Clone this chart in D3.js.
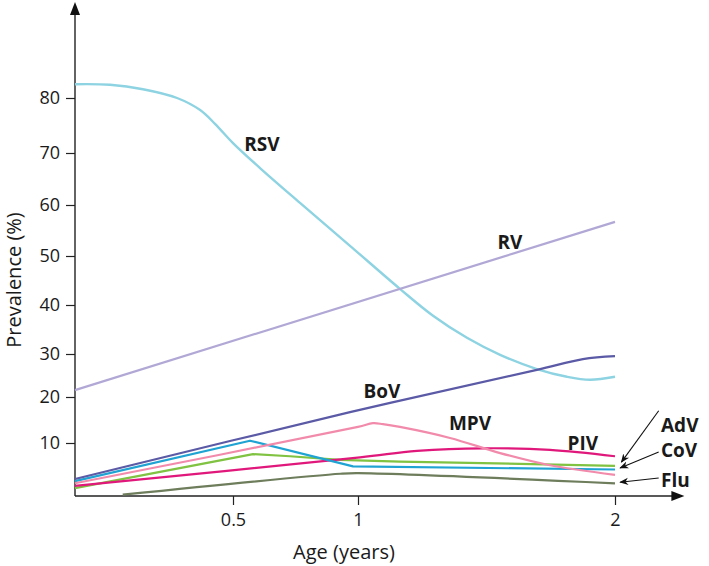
<!DOCTYPE html>
<html>
<head>
<meta charset="utf-8">
<script src="https://cdn.jsdelivr.net/npm/d3@7"></script>
<style>
  html, body { margin: 0; padding: 0; background: #fff; }
  svg { display: block; }
  text { font-family: "Open Sans", "Noto Sans", sans-serif; fill: #1a1a1a; }
</style>
</head>
<body>
<svg id="chart" width="709" height="566"></svg>
<script>
// ---------- data ----------
const xTicks = [0.5, 1, 2];
const yTicks = [10, 20, 30, 40, 50, 60, 70, 80];
const seriesNames = ["RSV", "RV", "BoV", "MPV", "PIV", "AdV", "CoV", "Flu"];

// age (years) / prevalence (%)
const rsvAge = [0, 0.111, 0.215, 0.323, 0.396, 0.443, 0.5, 0.608, 0.768, 0.968, 1.163, 1.292, 1.424, 1.553, 1.696, 1.813, 1.903, 2.0];
const rsvVal = [82.5, 82.4, 81.6, 80.0, 77.8, 75.3, 71.8, 67.1, 60.4, 52.0, 43.3, 37.8, 33.3, 29.8, 26.5, 24.7, 24.0, 24.7];

const rvAge = [0, 2];
const rvVal = [21.6, 56.7];

const bovAge = [0, 0.968, 1.696, 1.875, 2.0];
const bovVal = [3.2, 16.7, 26.3, 28.8, 29.5];

const mpvAge = [0, 1.0, 1.058, 1.097, 1.163, 1.358, 1.553, 1.747, 2.0];
const mpvVal = [2.4, 13.5, 14.3, 14.1, 13.5, 11.1, 8.1, 5.8, 4.0];

const pivAge = [0, 1.008, 1.23, 1.486, 1.747, 2.0];
const pivVal = [1.9, 7.3, 8.5, 9.0, 8.7, 7.5];

const advAge = [0, 0.58, 0.728, 0.928, 1.163, 2.0];
const advVal = [1.5, 7.9, 7.5, 6.8, 6.5, 5.7];

const covAge = [0, 0.568, 0.98, 2.0];
const covVal = [2.8, 10.5, 5.6, 5.0];

const fluAge = [0.151, 0.93, 1.0, 2.0];
const fluVal = [0.25, 4.2, 4.3, 2.4];

// label anchors [age, value]
const labelAge = [0.616, 1.591, 1.093, 1.436, 1.875, 2.179, 2.179, 2.179];
const labelVal = [71.5, 52.7, 21.2, 14.3, 10.0, 13.9, 8.7, 3.0];

// pointer arrows for AdV, CoV, Flu: tail -> tip
const arrowNames = ["AdV", "CoV", "Flu"];
const arrowTailAge = [2.17, 2.17, 2.17];
const arrowTailVal = [17.0, 8.3, 3.4];
const arrowTipAge = [2.025, 2.02, 2.02];
const arrowTipVal = [6.4, 5.3, 2.6];

// ---------- layout / style ----------
const colors = {
  RSV: "#8dd3e2", RV: "#b2a8d6", BoV: "#5b5aa6", MPV: "#f28bab",
  PIV: "#e0187b", AdV: "#80c241", CoV: "#1fa3d2", Flu: "#6e7d5b"
};
const curved = { RSV: true, RV: false, BoV: true, MPV: true, PIV: true, AdV: false, CoV: false, Flu: true };

const svg = d3.select("#chart");

const x = d3.scaleLinear().domain([0, 0.5, 1, 2]).range([75, 233, 358, 615]);
const y = d3.scaleLinear().domain([0, 10, 20, 30, 40, 50, 60, 70, 80])
  .range([496, 443, 397, 354, 305, 256, 205, 153, 98]);

const axisY0 = y(0);

// axes
const yAxis = svg.append("g").attr("transform", `translate(${x(0)},0)`)
  .call(d3.axisLeft(y).tickValues(yTicks).tickSize(9).tickPadding(6).tickFormat(d3.format("d")));
yAxis.select(".domain").remove();
yAxis.selectAll(".tick line").attr("stroke", "#222").attr("stroke-width", 1.2);
yAxis.selectAll(".tick text").style("font-size", "18px").attr("fill", "#1a1a1a");

const xAxis = svg.append("g").attr("transform", `translate(0,${axisY0})`)
  .call(d3.axisBottom(x).tickValues(xTicks).tickSize(9).tickPadding(8).tickFormat(d => String(d)));
xAxis.select(".domain").remove();
xAxis.selectAll(".tick line").attr("stroke", "#222").attr("stroke-width", 1.2);
xAxis.selectAll(".tick text").style("font-size", "18px").attr("fill", "#1a1a1a");

// axis lines with arrow heads
const xEnd = x(2.27);
svg.append("line").attr("x1", x(0)).attr("x2", xEnd - 6).attr("y1", axisY0).attr("y2", axisY0)
  .attr("stroke", "#222").attr("stroke-width", 1.4);
svg.append("path").attr("d", `M${xEnd},${axisY0} L${xEnd - 13},${axisY0 - 5} L${xEnd - 13},${axisY0 + 5} Z`).attr("fill", "#111");
const yTop = 2;
svg.append("line").attr("x1", x(0)).attr("x2", x(0)).attr("y1", axisY0).attr("y2", yTop + 6)
  .attr("stroke", "#222").attr("stroke-width", 1.4);
svg.append("path").attr("d", `M${x(0)},${yTop} L${x(0) - 5},${yTop + 13} L${x(0) + 5},${yTop + 13} Z`).attr("fill", "#111");

// axis titles
svg.append("text").attr("x", 344).attr("y", 559).attr("text-anchor", "middle")
  .style("font-size", "20px").text("Age (years)");
svg.append("text").attr("transform", `translate(21,280) rotate(-90)`)
  .attr("text-anchor", "middle").style("font-size", "20px").text("Prevalence (%)");

// series
const seriesData = {
  RSV: d3.zip(rsvAge, rsvVal), RV: d3.zip(rvAge, rvVal), BoV: d3.zip(bovAge, bovVal),
  MPV: d3.zip(mpvAge, mpvVal), PIV: d3.zip(pivAge, pivVal), AdV: d3.zip(advAge, advVal),
  CoV: d3.zip(covAge, covVal), Flu: d3.zip(fluAge, fluVal)
};
const drawOrder = ["RSV", "RV", "Flu", "AdV", "PIV", "CoV", "MPV", "BoV"];
drawOrder.forEach(name => {
  const line = d3.line().x(d => x(d[0])).y(d => y(d[1]))
    .curve(curved[name] ? d3.curveCatmullRom.alpha(0.5) : d3.curveLinear);
  svg.append("path").datum(seriesData[name])
    .attr("fill", "none").attr("stroke", colors[name])
    .attr("stroke-width", name === "RSV" ? 2.4 : 2.2)
    .attr("stroke-linejoin", "round")
    .attr("d", line);
});

// series labels
seriesNames.forEach((name, i) => {
  const left = i >= 5;
  svg.append("text")
    .attr("x", x(labelAge[i])).attr("y", y(labelVal[i]))
    .attr("dy", "0.35em")
    .attr("text-anchor", left ? "start" : "middle")
    .style("font-size", "19px").style("font-weight", "700")
    .text(name);
});

// pointer arrows
const defs = svg.append("defs");
defs.append("marker").attr("id", "ah").attr("viewBox", "0 0 10 10")
  .attr("refX", 9).attr("refY", 5).attr("markerWidth", 9).attr("markerHeight", 9)
  .attr("markerUnits", "userSpaceOnUse").attr("orient", "auto")
  .append("path").attr("d", "M0,1 L10,5 L0,9 L3,5 Z").attr("fill", "#111");
arrowNames.forEach((n, i) => {
  svg.append("line")
    .attr("x1", x(arrowTailAge[i])).attr("y1", y(arrowTailVal[i]))
    .attr("x2", x(arrowTipAge[i])).attr("y2", y(arrowTipVal[i]))
    .attr("stroke", "#111").attr("stroke-width", 1.1)
    .attr("marker-end", "url(#ah)");
});
</script>
</body>
</html>
